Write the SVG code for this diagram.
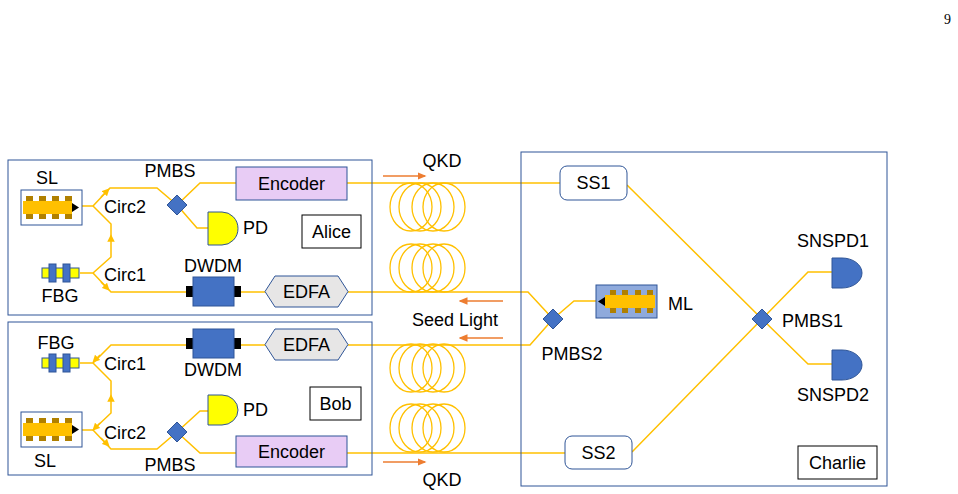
<svg xmlns="http://www.w3.org/2000/svg" width="958" height="494" viewBox="0 0 958 494">
<style>
text{font-family:"Liberation Sans",Arial,sans-serif;font-size:18px;fill:#000}
.f{fill:none;stroke:#FFC000;stroke-width:1.5}
.c{fill:none;stroke:#FFC000;stroke-width:1.3}
.frame{fill:none;stroke:#2F5597;stroke-width:1}
.lbl{fill:#fff;stroke:#000;stroke-width:1}
.arr{stroke:#ED7D31;stroke-width:1.5;fill:none}
</style>
<defs>
<marker id="ah" markerWidth="6" markerHeight="6" refX="5" refY="3" orient="auto"><path d="M0,0.5L6,3L0,5.5z" fill="#ED7D31"/></marker>
<marker id="sa" markerWidth="5" markerHeight="5" refX="2.5" refY="2.5" orient="auto"><path d="M0,0L5,2.5L0,5z" fill="#FFC000"/></marker>
<g id="coil"><ellipse cx="0" cy="0" rx="21" ry="24" class="c"/><ellipse cx="9" cy="0" rx="21" ry="24" class="c"/><ellipse cx="22" cy="0" rx="21" ry="24" class="c"/><ellipse cx="33" cy="0" rx="21" ry="24" class="c"/></g>
<g id="laser"><rect x="0" y="0" width="61" height="35" fill="#fff" stroke="#2F5597"/><g fill="#B08000"><rect x="5" y="6" width="7" height="23"/><rect x="18" y="6" width="7" height="23"/><rect x="31" y="6" width="7" height="23"/><rect x="44" y="6" width="7" height="23"/></g><rect x="2" y="11" width="49" height="13" fill="#FFC000"/><path d="M51,13L58,17.5L51,22z" fill="#000"/></g>
<g id="fbg"><rect x="0" y="-5" width="37" height="10" fill="#FFFF00" stroke="#2F5597"/><rect x="7" y="-9" width="7" height="18" fill="#4472C4" stroke="#2F5597"/><rect x="21" y="-9" width="7" height="18" fill="#4472C4" stroke="#2F5597"/></g>
<g id="dwdm"><rect x="-7" y="9" width="7" height="11" fill="#000"/><rect x="41" y="9" width="7" height="11" fill="#000"/><rect x="0" y="0" width="41" height="29" fill="#4472C4" stroke="#2F5597"/></g>
<g id="edfa"><path d="M10,0H73L83,15.5L73,31H10L0,15.5z" fill="#E7E6E6" stroke="#2F5597"/></g>
<g id="diam"><path d="M0,-10L10,0L0,10L-10,0z" fill="#4472C4" stroke="#2F5597"/></g>
</defs>
<text x="944" y="24" style="font-family:'Liberation Serif',serif;font-size:14px">9</text>

<g id="connectors">
<path class="f" d="M80,206H93L110,188H157L177,205L200,183H236"/>
<path class="f" d="M93,206L111,224V257L93,273H80"/>
<path class="f" d="M93,273L111,292H186"/>
<path class="f" d="M177,205L197,228H208"/>
<path class="f" d="M241,292H265"/>
<path class="f" d="M347,183H560"/>
<path class="f" d="M348,292H528L553,319"/>
<path class="f" d="M80,363H93L111,345H186"/>
<path class="f" d="M93,363L111,381V413L93,430H80"/>
<path class="f" d="M93,430L111,449H157L177,432L200,411H208"/>
<path class="f" d="M177,432L200,453H236"/>
<path class="f" d="M241,345H265"/>
<path class="f" d="M347,453H565"/>
<path class="f" d="M348,345H530L553,319L574,301H600"/>
<path class="f" d="M627,185L762,319L808,364H832"/>
<path class="f" d="M632,452L762,319L808,272H832"/>
<path d="M101,197l6,-6" class="f" marker-end="url(#sa)"/>
<path d="M101,282l6,6" class="f" marker-end="url(#sa)"/>
<path d="M111,240v-2" class="f" marker-end="url(#sa)"/>
<path d="M100,355l-5,5" class="f" marker-end="url(#sa)"/>
<path d="M111,400v-2" class="f" marker-end="url(#sa)"/>
<path d="M100,423l-5,5" class="f" marker-end="url(#sa)"/>
<path d="M101,438l6,6" class="f" marker-end="url(#sa)"/>
<path class="arr" d="M383,176H425" marker-end="url(#ah)"/>
<path class="arr" d="M383,462H425" marker-end="url(#ah)"/>
<path class="arr" d="M503,301H460" marker-end="url(#ah)"/>
<path class="arr" d="M503,338H460" marker-end="url(#ah)"/>
</g>

<g id="fibers">
<use href="#coil" x="411" y="207"/>
<use href="#coil" x="411" y="268"/>
<use href="#coil" x="411" y="368"/>
<use href="#coil" x="411" y="428"/>
<text x="442" y="167" text-anchor="middle">QKD</text>
<text x="442" y="486" text-anchor="middle">QKD</text>
<text x="455" y="326" text-anchor="middle">Seed Light</text>
</g>

<g id="alice">
<rect class="frame" x="8" y="160" width="364" height="155"/>
<rect class="lbl" x="302" y="215" width="59" height="33"/><text x="331.5" y="238" text-anchor="middle">Alice</text>
<use href="#laser" x="21" y="190"/><text x="47" y="184" text-anchor="middle">SL</text>
<use href="#fbg" x="42" y="273"/><text x="60" y="302" text-anchor="middle">FBG</text>
<text x="104" y="213">Circ2</text><text x="104" y="281">Circ1</text>
<use href="#diam" x="177" y="205"/><text x="170" y="177" text-anchor="middle">PMBS</text>
<path d="M208,212H222A16,16.5 0 0 1 222,245H208z" fill="#FFFF00" stroke="#2F5597"/><text x="243" y="234">PD</text>
<rect x="236" y="167" width="111" height="33" fill="#E8CCF5" stroke="#2F5597"/><text x="291.5" y="190" text-anchor="middle">Encoder</text>
<use href="#dwdm" x="193" y="277"/><text x="213" y="272" text-anchor="middle">DWDM</text>
<use href="#edfa" x="265" y="276"/><text x="306.5" y="298" text-anchor="middle">EDFA</text>
</g>

<g id="bob">
<rect class="frame" x="8" y="322" width="364" height="153"/>
<rect class="lbl" x="310" y="387" width="51" height="33"/><text x="335.5" y="410" text-anchor="middle">Bob</text>
<use href="#laser" x="21" y="412"/><text x="45" y="467" text-anchor="middle">SL</text>
<use href="#fbg" x="42" y="363"/><text x="56" y="349" text-anchor="middle">FBG</text>
<text x="104" y="370">Circ1</text><text x="104" y="439">Circ2</text>
<use href="#diam" x="177" y="432"/><text x="170" y="471" text-anchor="middle">PMBS</text>
<path d="M208,395H222A16,15 0 0 1 222,425H208z" fill="#FFFF00" stroke="#2F5597"/><text x="243" y="416">PD</text>
<rect x="236" y="436" width="111" height="31" fill="#E8CCF5" stroke="#2F5597"/><text x="291.5" y="458" text-anchor="middle">Encoder</text>
<use href="#dwdm" x="193" y="329"/><text x="213" y="376" text-anchor="middle">DWDM</text>
<use href="#edfa" x="265" y="329"/><text x="306.5" y="351" text-anchor="middle">EDFA</text>
</g>

<g id="charlie">
<rect class="frame" x="521" y="152" width="366" height="334"/>
<rect class="lbl" x="798" y="446" width="79" height="33"/><text x="837.5" y="469" text-anchor="middle">Charlie</text>
<rect x="560" y="166" width="67" height="34" rx="7" fill="#fff" stroke="#2F5597"/><text x="593.5" y="189" text-anchor="middle">SS1</text>
<rect x="565" y="436" width="67" height="33" rx="7" fill="#fff" stroke="#2F5597"/><text x="598.5" y="459" text-anchor="middle">SS2</text>
<use href="#diam" x="553" y="319"/><text x="572" y="360" text-anchor="middle">PMBS2</text>
<g id="ml"><rect x="596" y="285" width="61" height="33" fill="#8FAADC" stroke="#2F5597"/><g fill="#B08000"><rect x="610" y="290" width="6" height="23"/><rect x="622" y="290" width="6" height="23"/><rect x="635" y="290" width="6" height="23"/><rect x="647" y="290" width="6" height="23"/></g><rect x="605" y="295" width="50" height="13" fill="#FFC000"/><path d="M605,297L598,301.5L605,306z" fill="#000"/></g>
<text x="668" y="310">ML</text>
<use href="#diam" x="762" y="319"/><text x="782" y="327">PMBS1</text>
<path d="M832,258H842A20,15 0 0 1 842,288H832z" fill="#4472C4" stroke="#2F5597"/>
<path d="M832,350H842A20,15 0 0 1 842,380H832z" fill="#4472C4" stroke="#2F5597"/>
<text x="833" y="247" text-anchor="middle">SNSPD1</text>
<text x="833" y="401" text-anchor="middle">SNSPD2</text>
</g>
</svg>
